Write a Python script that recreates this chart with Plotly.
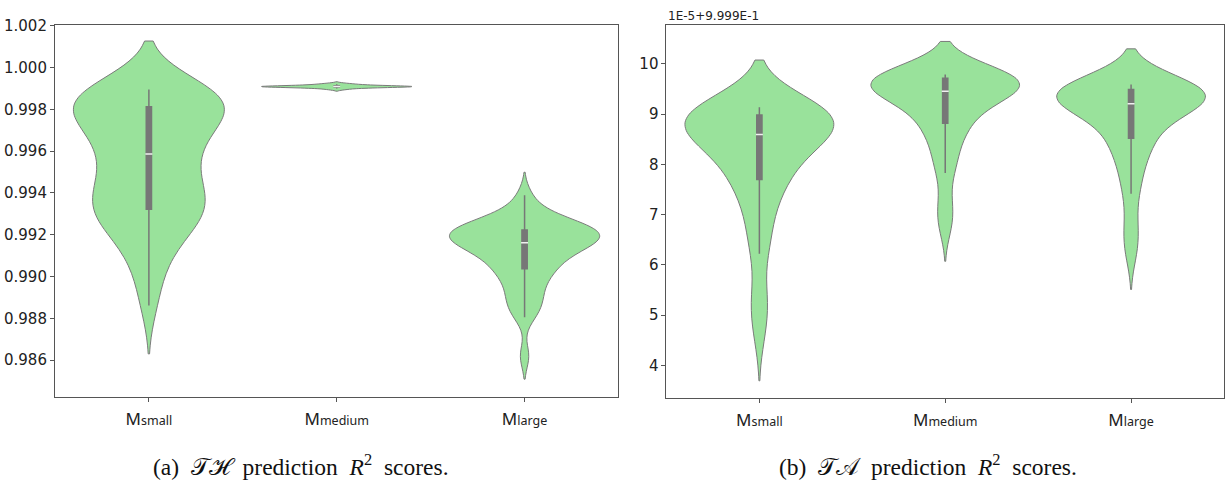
import numpy as np
import plotly.graph_objects as go

# ---------------- data ----------------
categories = ["small", "medium", "large"]

# (a) TH prediction R^2 scores
th_small = [0.98862, 0.98990, 0.99080, 0.99140, 0.99190, 0.99230, 0.99260, 0.99285, 0.99300, 0.99315,
            0.99330, 0.99350, 0.99375, 0.99395, 0.99420, 0.99445, 0.99475, 0.99510, 0.99545, 0.99580,
            0.99592, 0.99625, 0.99655, 0.99685, 0.99710, 0.99730, 0.99750, 0.99765, 0.99780, 0.99795,
            0.99830, 0.99840, 0.99850, 0.99858, 0.99865, 0.99872, 0.99878, 0.99884, 0.99890, 0.99895]
th_medium = [0.99895, 0.99900, 0.99903, 0.99905, 0.99906, 0.99907, 0.99908, 0.99908,
             0.99909, 0.99909, 0.99909, 0.99910, 0.99910, 0.99911, 0.99912, 0.99913,
             0.99915, 0.99918, 0.99920, 0.99924]
th_large = [0.98619, 0.98805, 0.98840, 0.98870, 0.98900, 0.98930, 0.98960, 0.98990, 0.99015, 0.99035,
            0.99040, 0.99060, 0.99080, 0.99095, 0.99110, 0.99122, 0.99132, 0.99142, 0.99150, 0.99158,
            0.99166, 0.99172, 0.99178, 0.99184, 0.99190, 0.99196, 0.99202, 0.99208, 0.99214, 0.99220,
            0.99226, 0.99232, 0.99238, 0.99245, 0.99252, 0.99262, 0.99275, 0.99295, 0.99330, 0.99389]

# (b) TA prediction R^2 scores, in units of 1E-5 above 9.999E-1
ta_small = [4.63, 5.15, 5.40, 6.221, 6.50, 6.80, 7.10, 7.35, 7.52, 7.68,
            7.72, 7.85, 7.98, 8.10, 8.20, 8.29, 8.37, 8.44, 8.51, 8.57,
            8.614, 8.65, 8.69, 8.73, 8.77, 8.80, 8.84, 8.87, 8.90, 8.93,
            9.04, 9.05, 9.06, 9.07, 9.08, 9.09, 9.10, 9.11, 9.12, 9.137]
ta_medium = [6.73, 7.00, 7.30, 7.829, 8.00, 8.20, 8.40, 8.58, 8.70, 8.80,
             8.833, 8.95, 9.06, 9.15, 9.23, 9.29, 9.34, 9.38, 9.41, 9.44,
             9.472, 9.50, 9.53, 9.56, 9.59, 9.61, 9.63, 9.65, 9.67, 9.685,
             9.745, 9.748, 9.752, 9.756, 9.760, 9.765, 9.770, 9.775, 9.780, 9.787]
ta_large = [6.22, 6.55, 6.90, 7.416, 7.65, 7.90, 8.10, 8.28, 8.42, 8.50,
            8.535, 8.68, 8.82, 8.94, 9.02, 9.08, 9.12, 9.15, 9.18, 9.20,
            9.218, 9.25, 9.28, 9.31, 9.34, 9.37, 9.40, 9.42, 9.44, 9.46,
            9.524, 9.53, 9.535, 9.54, 9.548, 9.555, 9.562, 9.57, 9.58, 9.588]

th_ticks = [0.986, 0.988, 0.990, 0.992, 0.994, 0.996, 0.998, 1.000, 1.002]
ta_ticks = [4, 5, 6, 7, 8, 9, 10]

offset_label = "1E-5+9.999E-1"
SP = "\u00a0\u00a0"
caption_a = f"(a){SP}𝒯ℋ{SP}prediction{SP}<i>R</i><sup>2</sup>{SP}scores."
caption_b = f"(b){SP}𝒯𝒜{SP}prediction{SP}<i>R</i><sup>2</sup>{SP}scores."

# ---------------- style ----------------
FILL = "#99e29b"
EDGE = "#7a7a7a"
BOX = "#777777"
W, H = 1225, 488
TOP, BOT_L, BOT_R = 17, 395.4, 396.4

fig = go.Figure()

panels = [
    ("x", "y", [th_small, th_medium, th_large], [0.00116, 0.00004, 0.00055]),
    ("x2", "y2", [ta_small, ta_medium, ta_large], [0.47, 0.33, 0.356]),
]

for xa, ya, series, bws in panels:
    for i, (vals, bw) in enumerate(zip(series, bws)):
        fig.add_trace(go.Violin(
            x0=i, y=vals, xaxis=xa, yaxis=ya,
            width=0.8, scalemode="width", bandwidth=bw, spanmode="soft",
            fillcolor=FILL, opacity=1,
            line=dict(color=EDGE, width=1),
            points="outliers", marker=dict(opacity=0, size=1),
            box=dict(visible=True, width=0.035, fillcolor=BOX,
                     line=dict(color=BOX, width=1.5)),
            meanline=dict(visible=False),
            showlegend=False, hoverinfo="skip",
        ))
        fig.add_trace(go.Scatter(
            x=[i], y=[float(np.median(vals))], xaxis=xa, yaxis=ya,
            mode="markers",
            marker=dict(symbol="line-ew", size=5, line=dict(color="#f0f0f0", width=1.5)),
            showlegend=False, hoverinfo="skip",
        ))

ticktext = [f"M<span style='font-size:12.5px'>{c}</span>" for c in categories]

axis_common = dict(showline=True, linecolor="#555555", linewidth=1, mirror=True,
                   ticks="outside", ticklen=4, tickcolor="#555555", showgrid=False,
                   zeroline=False)

fig.update_layout(
    width=W, height=H,
    margin=dict(l=0, r=0, t=0, b=0),
    paper_bgcolor="white", plot_bgcolor="white",
    violinmode="overlay",
    font=dict(family="DejaVu Sans", color="#222222"),
    xaxis=dict(domain=[55 / W, 619 / W], range=[-0.5, 2.5],
               tickvals=[0, 1, 2], ticktext=ticktext, ticklabelstandoff=3,
               tickfont=dict(family="Noto Sans", size=17, color="#222222"),
               **axis_common),
    yaxis=dict(domain=[1 - BOT_L / H, 1 - TOP / H], range=[0.98424, 1.00205],
               tickvals=th_ticks, tickformat=".3f",
               tickfont=dict(family="DejaVu Sans", size=15, color="#222222"),
               **axis_common),
    xaxis2=dict(domain=[667 / W, 1.0], range=[-0.5, 2.5], anchor="y2",
                tickvals=[0, 1, 2], ticktext=ticktext, ticklabelstandoff=3,
                tickfont=dict(family="Noto Sans", size=17, color="#222222"),
                **axis_common),
    yaxis2=dict(domain=[1 - BOT_R / H, 1 - TOP / H], range=[3.35, 10.78], anchor="x2",
                tickvals=ta_ticks,
                tickfont=dict(family="DejaVu Sans", size=15, color="#222222"),
                **axis_common),
)

fig.add_annotation(text=offset_label, xref="paper", yref="paper",
                   x=667 / W, y=1 - 8 / H, xanchor="left", yanchor="middle",
                   showarrow=False, font=dict(family="DejaVu Sans", size=12, color="#222222"))
fig.add_annotation(text=caption_a, xref="paper", yref="paper",
                   x=301 / W, y=1 - 465 / H, xanchor="center", yanchor="middle",
                   showarrow=False, font=dict(family="Liberation Serif", size=23.5, color="#111111"))
fig.add_annotation(text=caption_b, xref="paper", yref="paper",
                   x=929 / W, y=1 - 465 / H, xanchor="center", yanchor="middle",
                   showarrow=False, font=dict(family="Liberation Serif", size=23.5, color="#111111"))

fig.write_html("out.html", config={"displayModeBar": False},
               post_script="document.body.style.margin='0';document.body.style.overflow='hidden';")
